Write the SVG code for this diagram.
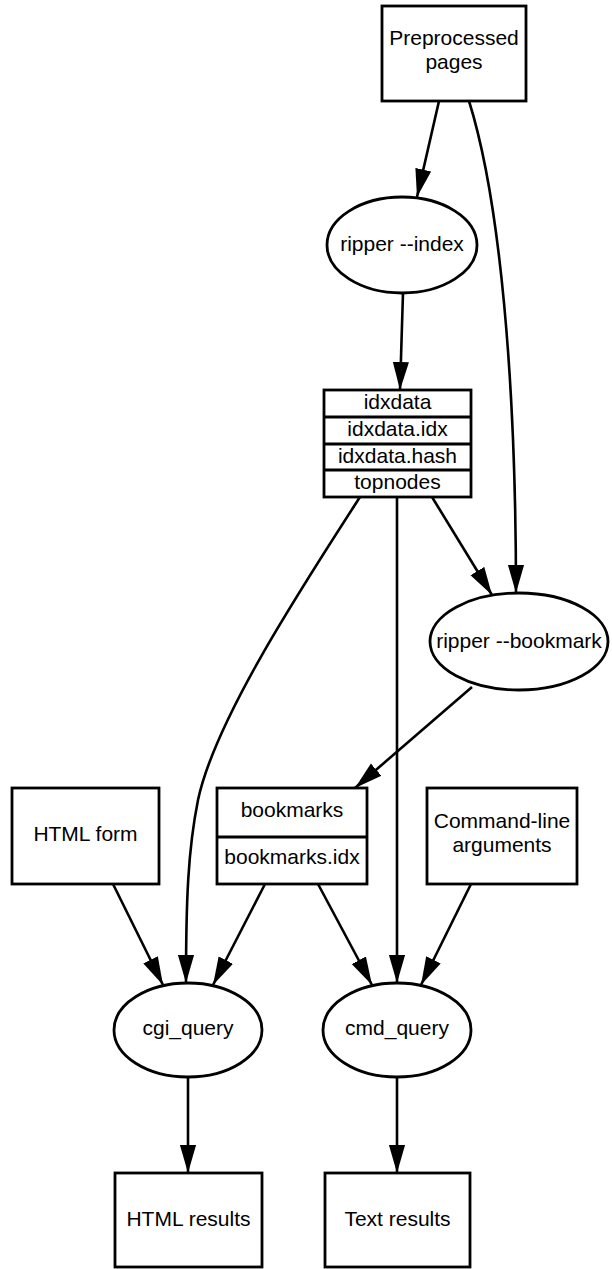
<svg xmlns="http://www.w3.org/2000/svg" width="612" height="1269" viewBox="0 0 612 1269">
<style>
  .shape { fill: #ffffff; stroke: #000000; stroke-width: 2.8; }
  .div { stroke: #000000; stroke-width: 2.8; fill: none; }
  .lbl { font-family: "Liberation Sans", Arial, Helvetica, sans-serif; font-size: 21px; fill: #000000; text-anchor: middle; }
  .edge { fill: none; stroke: #000000; stroke-width: 2.6; marker-end: url(#arr); }
</style>
<defs>
  <marker id="arr" markerUnits="userSpaceOnUse" markerWidth="28" markerHeight="18" viewBox="0 0 26 15" refX="26" refY="7.5" orient="auto">
    <path d="M0,0 L26,7.5 L0,15 Z" fill="#000000"/>
  </marker>
</defs>
<rect width="612" height="1269" fill="#ffffff"/>

<g id="connectors">
  <path class="edge" d="M439,101 L417,197"/>
  <path class="edge" d="M469,101 C500,200 516,380 516,593"/>
  <path class="edge" d="M403,293 L400,390"/>
  <path class="edge" d="M432,497 L492,595"/>
  <path class="edge" d="M360,497 C300,590 215,720 198,800 C188,850 186,900 186,983"/>
  <path class="edge" d="M397,497 L397,983"/>
  <path class="edge" d="M472,687 L355,788"/>
  <path class="edge" d="M113,884 L163,985"/>
  <path class="edge" d="M265,884 L213,985"/>
  <path class="edge" d="M318,884 L372,985"/>
  <path class="edge" d="M471,884 L421,985"/>
  <path class="edge" d="M188,1077 L188,1173"/>
  <path class="edge" d="M397,1077 L397,1173"/>
</g>

<g id="preprocessed">
  <rect class="shape" x="382" y="6" width="144" height="95"/>
  <text class="lbl" x="454" y="45">Preprocessed</text>
  <text class="lbl" x="454" y="69">pages</text>
</g>

<g id="ripper_index">
  <ellipse class="shape" cx="402" cy="245" rx="75" ry="48"/>
  <text class="lbl" x="402" y="251">ripper --index</text>
</g>

<g id="idxdata">
  <rect class="shape" x="324" y="390" width="147" height="107"/>
  <line class="div" x1="324" y1="417" x2="471" y2="417"/>
  <line class="div" x1="324" y1="444" x2="471" y2="444"/>
  <line class="div" x1="324" y1="470" x2="471" y2="470"/>
  <text class="lbl" x="397.5" y="409">idxdata</text>
  <text class="lbl" x="397.5" y="436">idxdata.idx</text>
  <text class="lbl" x="397.5" y="463">idxdata.hash</text>
  <text class="lbl" x="397.5" y="489">topnodes</text>
</g>

<g id="ripper_bookmark">
  <ellipse class="shape" cx="519" cy="641.5" rx="89" ry="48.5"/>
  <text class="lbl" x="519" y="648">ripper --bookmark</text>
</g>

<g id="html_form">
  <rect class="shape" x="12" y="788" width="147" height="96"/>
  <text class="lbl" x="85.5" y="841">HTML form</text>
</g>

<g id="bookmarks">
  <rect class="shape" x="217" y="788" width="150" height="96"/>
  <line class="div" x1="217" y1="837" x2="367" y2="837"/>
  <text class="lbl" x="292" y="817">bookmarks</text>
  <text class="lbl" x="292" y="864">bookmarks.idx</text>
</g>

<g id="cmdline">
  <rect class="shape" x="427" y="788" width="150" height="96"/>
  <text class="lbl" x="502" y="828">Command-line</text>
  <text class="lbl" x="502" y="852">arguments</text>
</g>

<g id="cgi_query">
  <ellipse class="shape" cx="188" cy="1030" rx="74" ry="47"/>
  <text class="lbl" x="188" y="1035">cgi_query</text>
</g>

<g id="cmd_query">
  <ellipse class="shape" cx="397" cy="1030" rx="74" ry="47"/>
  <text class="lbl" x="397" y="1035">cmd_query</text>
</g>

<g id="html_results">
  <rect class="shape" x="115" y="1173" width="147" height="94"/>
  <text class="lbl" x="188.5" y="1226">HTML results</text>
</g>

<g id="text_results">
  <rect class="shape" x="325" y="1173" width="145" height="94"/>
  <text class="lbl" x="397.5" y="1226">Text results</text>
</g>
</svg>
